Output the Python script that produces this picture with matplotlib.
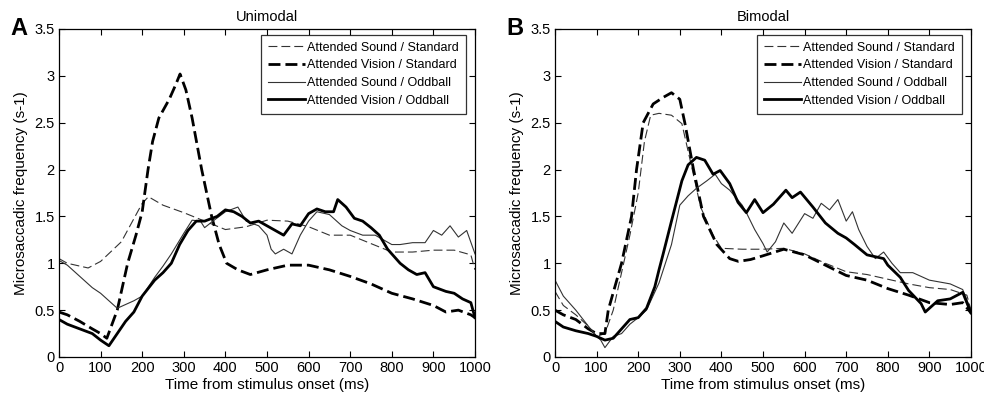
import matplotlib
matplotlib.use("Agg")
import matplotlib.pyplot as plt

plt.rcParams['font.family'] = ['Liberation Sans', 'DejaVu Sans']

labels = ["Attended Sound / Standard", "Attended Vision / Standard",
          "Attended Sound / Oddball", "Attended Vision / Oddball"]

# ---------------- Panel A: Unimodal ----------------
a_snd_std_x = [0, 20, 50, 70, 100, 150, 200, 215, 250, 300, 350, 400, 450, 500, 550, 600,
               650, 700, 750, 800, 850, 900, 950, 990, 1000]
a_snd_std_y = [1.05, 1.0, 0.97, 0.95, 1.02, 1.23, 1.64, 1.71, 1.62, 1.54, 1.45, 1.36, 1.39, 1.46,
               1.45, 1.39, 1.3, 1.3, 1.21, 1.12, 1.12, 1.14, 1.14, 1.09, 0.93]

a_vis_std_x = [0, 20, 50, 80, 100, 115, 140, 165, 185, 200, 214, 225, 240, 265, 280, 291, 305,
               320, 343, 367, 385, 403, 430, 460, 500, 550, 600, 650, 700, 750, 800, 850, 900,
               930, 960, 990, 1000]
a_vis_std_y = [0.48, 0.45, 0.38, 0.3, 0.25, 0.2, 0.5, 1.0, 1.3, 1.55, 2.0, 2.3, 2.55, 2.75, 2.9,
               3.02, 2.85, 2.55, 2.0, 1.5, 1.2, 1.0, 0.93, 0.88, 0.93, 0.98, 0.98, 0.93, 0.86,
               0.78, 0.68, 0.62, 0.55, 0.48, 0.5, 0.45, 0.42]

a_snd_odd_x = [0, 20, 50, 80, 100, 120, 140, 160, 180, 200, 230, 250, 270, 300, 320, 340, 350,
               370, 400, 430, 450, 480, 500, 510, 520, 540, 560, 580, 600, 620, 650, 680, 700,
               730, 760, 800, 820, 850, 880, 900, 920, 940, 960, 980, 1000]
a_snd_odd_y = [1.03, 0.98, 0.86, 0.74, 0.68, 0.6, 0.52, 0.56, 0.6, 0.65, 0.85, 0.97, 1.1, 1.32,
               1.46, 1.45, 1.38, 1.45, 1.55, 1.6, 1.45, 1.4, 1.3, 1.15, 1.1, 1.15, 1.1, 1.3, 1.45,
               1.55, 1.52, 1.4, 1.35, 1.3, 1.3, 1.2, 1.2, 1.22, 1.22, 1.35, 1.3, 1.4, 1.28, 1.35,
               1.1]

a_vis_odd_x = [0, 20, 50, 80, 100, 110, 120, 140, 160, 180, 200, 230, 250, 270, 290, 310, 330,
               350, 380, 400, 420, 440, 460, 480, 500, 520, 540, 560, 580, 600, 620, 640, 660,
               670, 690, 710, 730, 750, 770, 790, 800, 820, 840, 860, 880, 900, 930, 950, 970,
               990, 1000]
a_vis_odd_y = [0.4, 0.35, 0.3, 0.25, 0.18, 0.15, 0.12, 0.25, 0.38, 0.48, 0.65, 0.82, 0.9, 1.0,
               1.2, 1.35, 1.45, 1.45, 1.5, 1.57, 1.55, 1.5, 1.43, 1.45, 1.4, 1.35, 1.3, 1.42,
               1.4, 1.53, 1.58, 1.55, 1.55, 1.68, 1.6, 1.48, 1.45, 1.38, 1.3, 1.15, 1.1, 1.0,
               0.93, 0.88, 0.9, 0.75, 0.7, 0.68, 0.62, 0.58, 0.42]

# ---------------- Panel B: Bimodal ----------------
b_snd_std_x = [0, 20, 50, 80, 100, 120, 140, 160, 180, 200, 215, 230, 250, 280, 305, 330, 350,
               380, 400, 450, 500, 550, 600, 650, 700, 750, 800, 850, 900, 950, 990, 1000]
b_snd_std_y = [0.7, 0.55, 0.45, 0.33, 0.22, 0.25, 0.5, 0.9, 1.3, 1.75, 2.3, 2.58, 2.6, 2.58,
               2.49, 2.0, 1.6, 1.3, 1.16, 1.15, 1.15, 1.16, 1.1, 1.0, 0.91, 0.88, 0.83, 0.78,
               0.74, 0.72, 0.66, 0.5]

b_vis_std_x = [0, 20, 50, 80, 100, 120, 128, 160, 184, 196, 212, 236, 260, 280, 300, 312, 333,
               357, 389, 420, 441, 470, 500, 550, 600, 650, 700, 750, 800, 850, 900, 950, 980,
               1000]
b_vis_std_y = [0.5, 0.45, 0.4, 0.3, 0.25, 0.25, 0.5, 1.0, 1.5, 2.0, 2.5, 2.7, 2.77, 2.82, 2.75,
               2.5, 2.0, 1.5, 1.2, 1.05, 1.02, 1.04, 1.08, 1.15, 1.09, 0.98, 0.87, 0.82, 0.73,
               0.66, 0.58, 0.56, 0.58, 0.47]

b_snd_odd_x = [0, 20, 50, 80, 100, 110, 120, 140, 160, 180, 200, 220, 250, 280, 300, 320, 340,
               365, 385, 400, 420, 450, 460, 480, 500, 510, 530, 550, 570, 600, 620, 640, 660,
               680, 700, 715, 730, 750, 770, 790, 810, 830, 860, 900, 950, 980, 1000]
b_snd_odd_y = [0.82, 0.65, 0.5, 0.33, 0.22, 0.18, 0.1, 0.22, 0.25, 0.35, 0.42, 0.5, 0.79, 1.2,
               1.62, 1.72, 1.8, 1.88, 1.95, 1.85, 1.78, 1.62, 1.54, 1.36, 1.21, 1.12, 1.23, 1.43,
               1.32, 1.53, 1.48, 1.64, 1.57, 1.68, 1.45, 1.55, 1.36, 1.18, 1.05, 1.12, 1.0, 0.9,
               0.9, 0.82, 0.78, 0.72, 0.5]

b_vis_odd_x = [0, 20, 50, 80, 100, 120, 140, 160, 180, 200, 220, 240, 250, 260, 280, 305, 320,
               340, 360, 380, 397, 420, 440, 460, 480, 500, 525, 555, 570, 590, 620, 650, 680,
               700, 720, 750, 790, 800, 830, 850, 880, 890, 920, 950, 980, 1000]
b_vis_odd_y = [0.38, 0.32, 0.28, 0.25, 0.22, 0.18, 0.2, 0.3, 0.4, 0.42, 0.52, 0.75, 0.93, 1.1,
               1.45, 1.88, 2.05, 2.13, 2.1, 1.95, 1.99, 1.85, 1.65, 1.54, 1.68, 1.54, 1.63, 1.78,
               1.7, 1.76, 1.6, 1.43, 1.32, 1.27, 1.2, 1.09, 1.05, 0.98, 0.85, 0.71, 0.57, 0.48,
               0.6, 0.62, 0.69, 0.47]

xticks = list(range(0, 1001, 100))
yticks = [0, 0.5, 1, 1.5, 2, 2.5, 3, 3.5]
ytick_labels = ["0", "0.5", "1", "1.5", "2", "2.5", "3", "3.5"]

styles = [
    dict(color='#333333', lw=0.8, dashes=(8, 3.6)),
    dict(color='black', lw=2.0, dashes=(4.3, 1.8)),
    dict(color='#333333', lw=0.8, ls='-'),
    dict(color='black', lw=2.0, ls='-'),
]

fig = plt.figure(figsize=(9.84, 4.0), dpi=100)
ax_a = fig.add_axes([59 / 984, 43 / 400, 416 / 984, 328 / 400])
ax_b = fig.add_axes([555 / 984, 43 / 400, 416 / 984, 328 / 400])

panels = [
    (ax_a, "Unimodal", "A",
     [(a_snd_std_x, a_snd_std_y), (a_vis_std_x, a_vis_std_y),
      (a_snd_odd_x, a_snd_odd_y), (a_vis_odd_x, a_vis_odd_y)]),
    (ax_b, "Bimodal", "B",
     [(b_snd_std_x, b_snd_std_y), (b_vis_std_x, b_vis_std_y),
      (b_snd_odd_x, b_snd_odd_y), (b_vis_odd_x, b_vis_odd_y)]),
]

for ax, title, letter, series in panels:
    for (xs, ys), st, lab in zip(series, styles, labels):
        ax.plot(xs, ys, label=lab, **st)
    ax.set_xlim(0, 1000)
    ax.set_ylim(0, 3.5)
    ax.set_xticks(xticks)
    ax.set_xticklabels([str(t) for t in xticks])
    ax.set_yticks(yticks)
    ax.set_yticklabels(ytick_labels)
    ax.tick_params(direction='in', length=4, width=0.8, top=True, right=True,
                   labelsize=10.5, pad=3)
    for s in ax.spines.values():
        s.set_linewidth(0.9)
    ax.set_title(title, fontsize=10.5, pad=6)
    ax.set_xlabel("Time from stimulus onset (ms)", fontsize=11, labelpad=2)
    ax.set_ylabel("Microsaccadic frequency (s-1)", fontsize=11, labelpad=5)
    leg = ax.legend(loc='upper right', bbox_to_anchor=(0.978, 0.982), fontsize=9,
                    fancybox=False, frameon=True, handlelength=3.0, handletextpad=0.15,
                    labelspacing=0.45, borderpad=0.55, borderaxespad=0.0)
    leg.get_frame().set_edgecolor('black')
    leg.get_frame().set_linewidth(0.9)
    ax.text(-0.118, 0.982, letter, transform=ax.transAxes, fontsize=17,
            fontweight='bold', ha='left', va='baseline')

fig.savefig("out.png", dpi=100)
